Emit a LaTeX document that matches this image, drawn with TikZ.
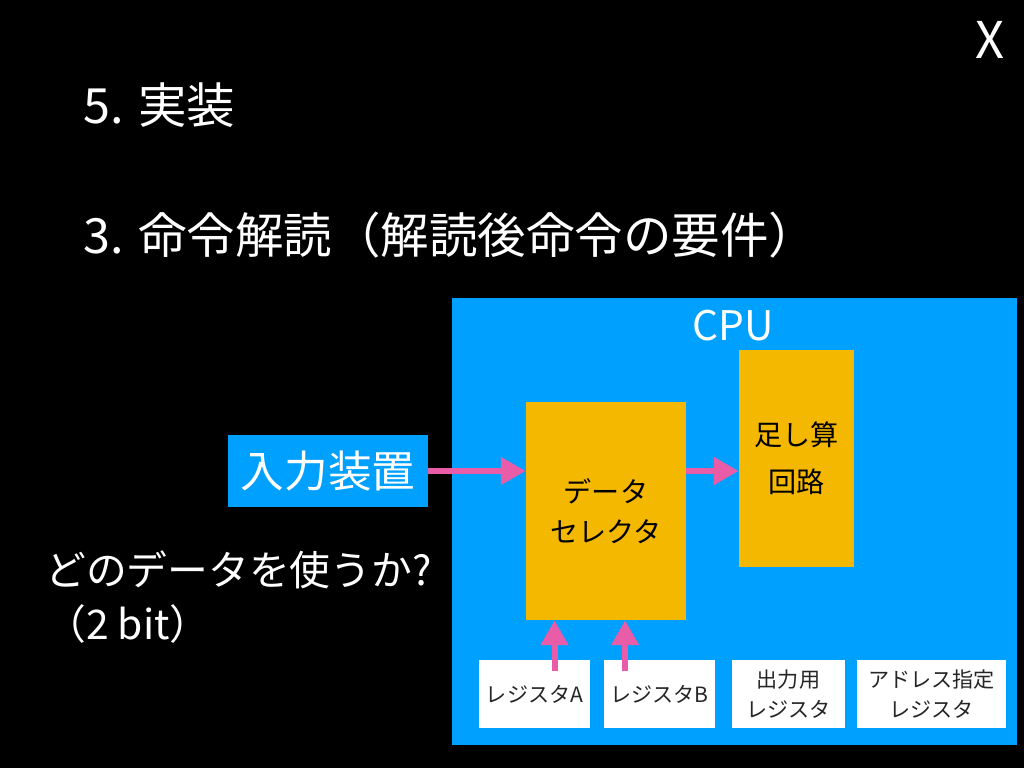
\documentclass[tikz,border=0pt]{standalone}
\usepackage{fontspec}
\setmainfont{Noto Sans CJK JP}
\usetikzlibrary{positioning, arrows.meta}
\definecolor{cpublue}{RGB}{0,160,255}
\definecolor{selyellow}{RGB}{245,184,0}
\definecolor{arrowpink}{RGB}{232,92,168}
\tikzstyle{heading} = [anchor=west, inner sep=0pt, text=white, font=\fontsize{34.5}{42}\selectfont]
\tikzstyle{unit} = [rectangle, inner sep=0pt, text centered, align=center, fill=selyellow, text=black, font=\fontsize{20}{28.5}\selectfont]
\tikzstyle{register} = [rectangle, inner sep=0pt, minimum height=1.7cm, text centered, align=center, fill=white, text=black!85, font=\fontsize{15}{21.5}\selectfont]
\tikzstyle{pinkarrow} = [line width=0.15cm, arrowpink, -{Triangle[width=0.66cm,length=0.62cm]}]

\begin{document}
\begin{tikzpicture}[x=0.025cm, y=-0.025cm]
  \fill[black] (0,0) rectangle (1024,768);

  % titles
  \node (close) [text=white, inner sep=0pt, font=\fontsize{36}{40}\selectfont] at (990,40) {X};
  \node (title) [heading] at (83,105) {5. 実装};
  \node (subtitle) [heading] at (83,235) {3. 命令解読（解読後命令の要件）};

  % cpu
  \node (cpu) [rectangle, fill=cpublue, minimum width=14.125cm, minimum height=11.175cm, inner sep=0pt] at (734.5,521.5) {};
  \node (cpulabel) [text=white, inner sep=0pt, font=\fontsize{29}{34}\selectfont] at (733,326) {CPU};

  \node (input) [rectangle, fill=cpublue, minimum width=5cm, minimum height=1.8cm, inner sep=0pt, text=white, font=\fontsize{31}{36}\selectfont] at (328,471) {入力装置};
  \node (sel) [unit, minimum width=4cm, minimum height=5.45cm] at (606,511) {データ\\セレクタ};
  \node (adder) [unit, minimum width=2.875cm, minimum height=5.425cm, font=\fontsize{20}{33.5}\selectfont] at (796.5,458.5) {足し算\\回路};

  \node (rega) [register, minimum width=2.775cm] at (534.5,694) {レジスタA};
  \node (regb) [register, minimum width=2.775cm] at (659.5,694) {レジスタB};
  \node (regout) [register, minimum width=2.825cm] at (788.5,694) {出力用\\レジスタ};
  \node (regaddr) [register, minimum width=3.725cm] at (931.5,694) {アドレス指定\\レジスタ};

  \node (question) [anchor=west, inner sep=0pt, text=white, align=left, font=\fontsize{29}{39}\selectfont] at (45,597) {どのデータを使うか?\\（2 bit）};

  % arrows
  \draw[pinkarrow] (input.east) -- (input.east -| sel.west);
  \draw[pinkarrow] (input.east -| sel.east) -- (input.east -| adder.west);
  \draw[pinkarrow] ([xshift=0.5cm,yshift=-0.28cm]rega.north) coordinate (fromA) -- (fromA |- sel.south);
  \draw[pinkarrow] ([xshift=-0.86cm,yshift=-0.28cm]regb.north) coordinate (fromB) -- (fromB |- sel.south);
\end{tikzpicture}
\end{document}
